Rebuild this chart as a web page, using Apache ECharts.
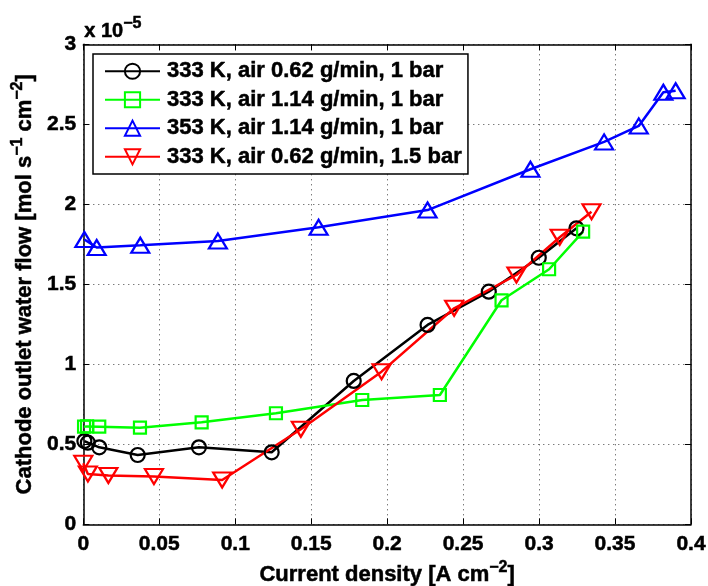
<!DOCTYPE html>
<html>
<head>
<meta charset="utf-8">
<script src="https://cdn.jsdelivr.net/npm/echarts@6/dist/echarts.min.js"></script>
<style>html,body{margin:0;padding:0;background:#fff;}#c{width:708px;height:586px;}</style>
</head>
<body>
<div id="c"></div>
<script>
// values of water flow in units of 1e-5 mol s^-1 cm^-2
const names = [
  '333 K, air 0.62 g/min, 1 bar',
  '333 K, air 1.14 g/min, 1 bar',
  '353 K, air 1.14 g/min, 1 bar',
  '333 K, air 0.62 g/min, 1.5 bar'
];
const blackX = [0.0007, 0.003, 0.0105, 0.0358, 0.0761, 0.124, 0.178, 0.2266, 0.2669, 0.2998, 0.3246];
const blackY = [0.52, 0.51, 0.481, 0.433, 0.481, 0.45, 0.896, 1.246, 1.454, 1.666, 1.85];
const greenX = [0.0005, 0.0025, 0.0105, 0.0373, 0.0779, 0.1268, 0.1836, 0.2347, 0.2753, 0.3066, 0.329];
const greenY = [0.61, 0.612, 0.61, 0.604, 0.6375, 0.694, 0.777, 0.808, 1.40, 1.594, 1.829];
const blueX = [0.0007, 0.0088, 0.0375, 0.0886, 0.1549, 0.2266, 0.2943, 0.3428, 0.3656, 0.3818, 0.3899];
const blueY = [1.78, 1.73, 1.744, 1.77, 1.856, 1.964, 2.219, 2.39, 2.49, 2.70, 2.71];
const redX = [0.0, 0.003, 0.0165, 0.0465, 0.0914, 0.1432, 0.1963, 0.2441, 0.2851, 0.3136, 0.3345];
const redY = [0.381, 0.315, 0.305, 0.298, 0.277, 0.594, 0.954, 1.35, 1.558, 1.794, 1.954];
const xTicks = [0, 0.05, 0.1, 0.15, 0.2, 0.25, 0.3, 0.35, 0.4];
const yTicks = [0, 0.5, 1, 1.5, 2, 2.5, 3];

const FONT = '"Liberation Sans", Arial, sans-serif';
const THICK = {textBorderColor: '#000', textBorderWidth: 0.5};
const zip = (xs, ys) => xs.map((x, i) => [x, ys[i]]);
const supRich = {
  t: Object.assign({fontSize: 22, fontWeight: 'bold', fontFamily: FONT, color: '#000', lineHeight: 26, verticalAlign: 'bottom'}, THICK),
  sup: Object.assign({fontSize: 16, fontWeight: 'bold', fontFamily: FONT, color: '#000', lineHeight: 26, verticalAlign: 'top'}, THICK)
};

function mk(name, xs, ys, color, symbol, size, rot) {
  return {
    name: name, type: 'line', data: zip(xs, ys),
    symbol: symbol, symbolSize: size, symbolRotate: rot || 0,
    showAllSymbol: true,
    lineStyle: {color: color, width: 2.5},
    itemStyle: {color: 'rgba(255,255,255,0)', borderColor: color, borderWidth: 2.2},
    emphasis: {disabled: true},
    animation: false, z: 3
  };
}

const chart = echarts.init(document.getElementById('c'), null, {renderer: 'canvas'});
const axisLbl = Object.assign({fontSize: 21, fontWeight: 'bold', fontFamily: FONT, color: '#000'}, THICK);
const tickStyle = {show: true, inside: true, length: 6, lineStyle: {color: '#000', width: 1}};
chart.setOption({
  animation: false,
  backgroundColor: '#fff',
  grid: {left: 83.3, right: 17, top: 44.3, bottom: 61.7, containLabel: false, outerBoundsMode: 'none'},
  xAxis: [{
    type: 'value', min: 0, max: 0.4, interval: 0.05,
    axisLine: {show: true, onZero: false, lineStyle: {color: '#000', width: 1.5}},
    axisTick: tickStyle,
    axisLabel: Object.assign({margin: 9, formatter: v => String(+v.toFixed(2))}, axisLbl),
    splitLine: {show: true, lineStyle: {color: '#444', width: 1, type: [1, 4]}},
    name: '{t|Current density [A cm}{sup|\u22122}{t|]}',
    nameLocation: 'middle', nameGap: 35,
    nameTextStyle: {rich: supRich}
  }, {
    type: 'value', min: 0, max: 0.4, interval: 0.05, position: 'top',
    axisLine: {show: true, onZero: false, lineStyle: {color: '#000', width: 1.5}},
    axisTick: tickStyle, axisLabel: {show: false}, splitLine: {show: false}
  }],
  yAxis: [{
    type: 'value', min: 0, max: 3, interval: 0.5,
    axisLine: {show: true, onZero: false, lineStyle: {color: '#000', width: 1.5}},
    axisTick: tickStyle,
    axisLabel: Object.assign({margin: 7}, axisLbl),
    splitLine: {show: true, lineStyle: {color: '#444', width: 1, type: [1, 4]}},
    name: '{t|Cathode outlet water flow [mol s}{sup|\u22121}{t| cm}{sup|\u22122}{t|]}',
    nameLocation: 'middle', nameRotate: 90, nameGap: 45,
    nameTextStyle: {rich: supRich}
  }, {
    type: 'value', min: 0, max: 3, interval: 0.5, position: 'right',
    axisLine: {show: true, onZero: false, lineStyle: {color: '#000', width: 1.5}},
    axisTick: tickStyle, axisLabel: {show: false}, splitLine: {show: false}
  }],
  legend: {
    show: true, orient: 'vertical', left: 93, top: 54,
    data: names,
    itemWidth: 55, itemHeight: 19, itemGap: 6,
    padding: [6, 6, 6, 11],
    borderColor: '#000', borderWidth: 1.5, backgroundColor: '#fff',
    textStyle: Object.assign({fontSize: 22, fontWeight: 'bold', fontFamily: FONT, color: '#000', lineHeight: 22, padding: [0, 0, 0, 2]}, THICK),
    selectedMode: false
  },
  graphic: [{
    type: 'text', left: 84, top: 15,
    style: {
      text: '{t|x 10}{sup|\u22125}',
      rich: {
        t: {fontSize: 20, fontWeight: 'bold', fontFamily: FONT, fill: '#000', lineHeight: 26, verticalAlign: 'bottom', stroke: '#000', lineWidth: 0.5},
        sup: {fontSize: 16, fontWeight: 'bold', fontFamily: FONT, fill: '#000', lineHeight: 26, verticalAlign: 'top', stroke: '#000', lineWidth: 0.5}
      }
    }
  }],
  series: [
    mk(names[0], blackX, blackY, '#000000', 'circle', 14),
    mk(names[1], greenX, greenY, '#00ff00', 'rect', 12),
    mk(names[2], blueX, blueY, '#0000ff', 'triangle', [18, 15]),
    mk(names[3], redX, redY, '#ff0000', 'triangle', [18, 15], 180)
  ]
});
</script>
</body>
</html>
